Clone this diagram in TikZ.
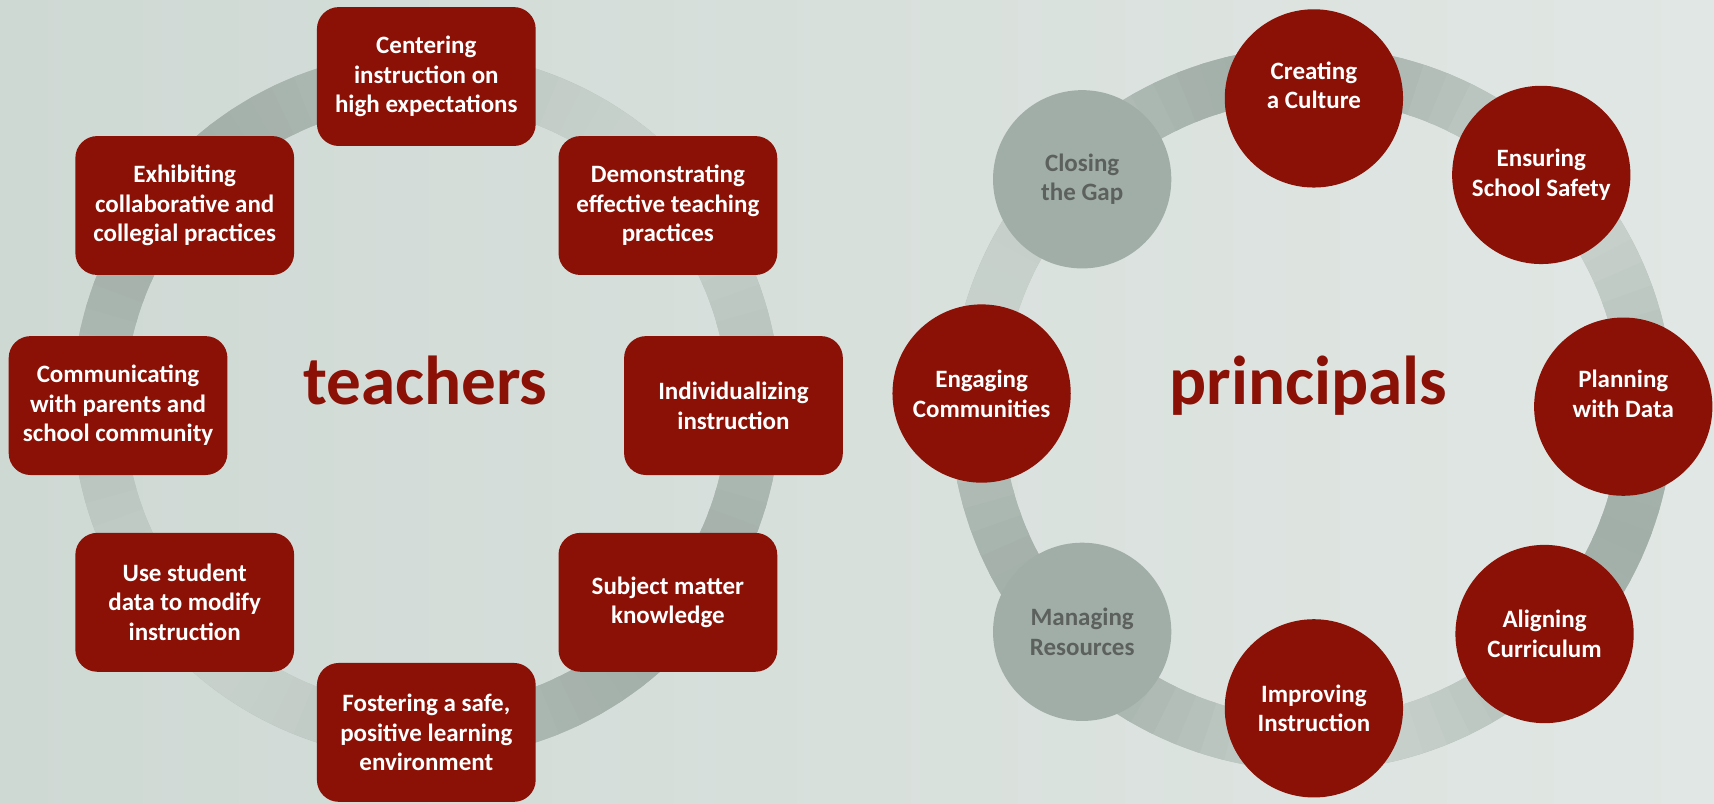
\documentclass[tikz,border=0pt]{standalone}
\usepackage{fontspec}
\setmainfont{Carlito}
\usetikzlibrary{positioning}
\definecolor{bgLeft}{HTML}{CFD9D4}
\definecolor{bgRight}{HTML}{E1E7E4}
\definecolor{boxCol}{HTML}{8B1005}
\definecolor{greyCol}{HTML}{A1AEA8}
\definecolor{greyText}{HTML}{5C615E}
\definecolor{ringDark}{HTML}{A0ACA6}
\definecolor{ringLight}{HTML}{CED7D2}

\begin{document}
\begin{tikzpicture}[
    x=0.01cm, y=-0.01cm,
    % Node styles
    redbox/.style={
        rectangle,
        rounded corners=0.2cm,
        fill=boxCol,
        text=white,
        font=\bfseries\fontsize{6.5}{7.7}\selectfont,
        minimum width=2cm,
        minimum height=1.27cm,
        inner sep=0pt,
        align=center
    },
    redcircle/.style={
        circle,
        fill=boxCol,
        text=white,
        font=\bfseries\fontsize{6.5}{7.7}\selectfont,
        minimum size=1.63cm,
        inner sep=0pt,
        align=center
    },
    greycircle/.style={
        redcircle,
        fill=greyCol,
        text=greyText
    },
    raised/.style={
        text depth=0.24cm
    },
    title/.style={
        anchor=base,
        text=boxCol,
        font=\bfseries\fontsize{18}{18}\selectfont
    },
    ring/.style={
        line width=0.48cm
    }
]

    % ==== BACKGROUND ====
    \shade[left color=bgLeft, right color=bgRight] (0,0) rectangle (1568,735);
    \useasboundingbox (0,0) rectangle (1568,735);

    % ==== RINGS ====
    \coordinate (tc) at (390,371);
    \coordinate (pc) at (1200,374);
    \draw[ring, draw=ringDark!55!ringLight] (tc) circle[radius=300];
    \draw[ring, draw=ringDark!55!ringLight] (pc) circle[radius=307];
    \foreach \a in {0,4,...,356}{
        \pgfmathsetmacro\p{55+40*cos(2*\a-80)}
        \draw[ring, draw=ringDark!\p!ringLight] (tc) ++(\a:300) arc[start angle=\a, end angle=\a+5, radius=300];
        \pgfmathsetmacro\q{55+40*cos(3*\a-60)}
        \draw[ring, draw=ringDark!\q!ringLight] (pc) ++(\a:307) arc[start angle=\a, end angle=\a+5, radius=307];
    }

    % ==== TEACHERS ====
    \node[title] (teachers) at (389,370) {teachers};

    \node[redbox] (center) at (390,70) {Centering\\instruction on\\high expectations};
    \node[redbox] (demo) at (611,188) {Demonstrating\\effective teaching\\practices};
    \node[redbox] (indiv) at (671,371) {Individualizing\\instruction};
    \node[redbox] (subject) at (611,551) {Subject matter\\knowledge};
    \node[redbox] (foster) at (390,670) {Fostering a safe,\\positive learning\\environment};
    \node[redbox] (data) at (169,551) {Use student\\data to modify\\instruction};
    \node[redbox] (comm) at (108,371) {Communicating\\with parents and\\school community};
    \node[redbox] (collab) at (169,188) {Exhibiting\\collaborative and\\collegial practices};

    % ==== PRINCIPALS ====
    \node[title] (principals) at (1197,370) {principals};

    \node[redcircle, raised] (culture) at (1202,90) {Creating\\a Culture};
    \node[redcircle] (safety) at (1410,160) {Ensuring\\School Safety};
    \node[redcircle, raised] (planning) at (1485,372) {Planning\\with Data};
    \node[redcircle] (curriculum) at (1413,580) {Aligning\\Curriculum};
    \node[redcircle] (improving) at (1202,648) {Improving\\Instruction};
    \node[greycircle] (resources) at (990,578) {Managing\\Resources};
    \node[redcircle] (engaging) at (898,360) {Engaging\\Communities};
    \node[greycircle] (gap) at (990,164) {Closing\\the Gap};

\end{tikzpicture}
\end{document}
